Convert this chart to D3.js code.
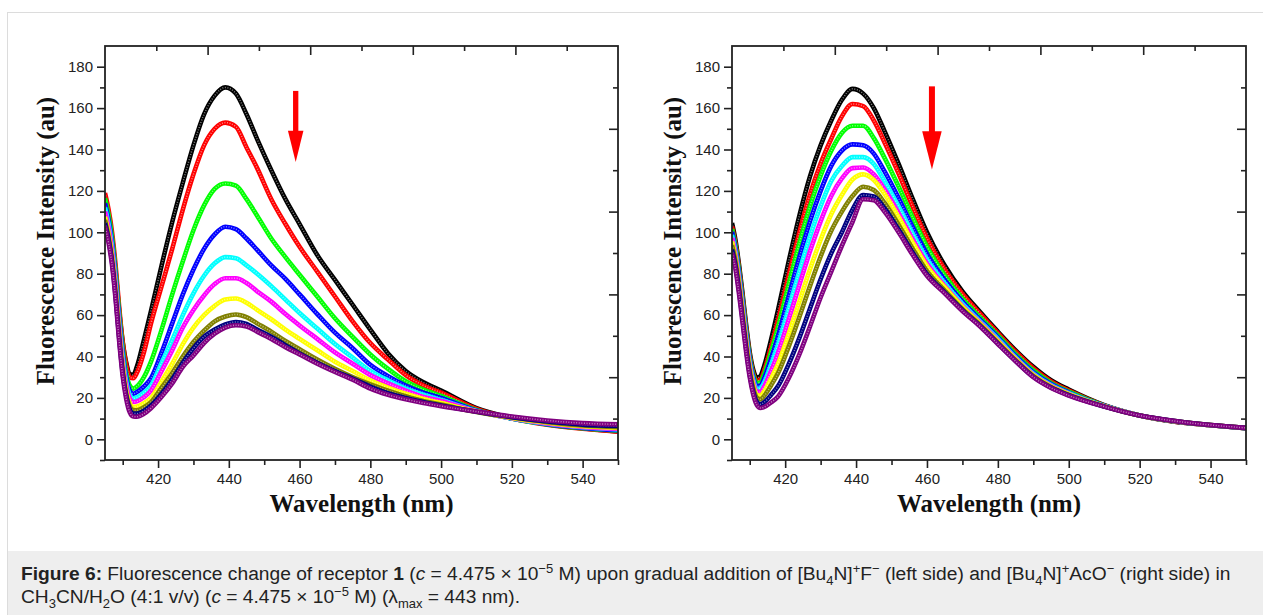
<!DOCTYPE html>
<html>
<head>
<meta charset="utf-8">
<script src="https://cdn.jsdelivr.net/npm/d3@7"></script>
<style>
  body { margin: 0; background: #fff; font-family: "Liberation Sans", Arial, sans-serif; }
  #frame { position: absolute; left: 7px; top: 12px; width: 1300px; height: 700px;
           border-left: 1px solid #dcdcdc; border-top: 1px solid #dcdcdc; }
  #chart { position: absolute; left: 0; top: 0; }
  #caption { position: absolute; left: 8px; top: 551px; width: 1300px; height: 80px;
             background: #eeeeee; color: #222; font-size: 19.2px; line-height: 23px;
             padding: 11px 0 0 13px; box-sizing: border-box; }
  #caption sup, #caption sub { font-size: 13px; line-height: 0; }
</style>
</head>
<body>
<div id="frame"></div>
<div id="chart"></div>
<script>
/* wavelengths (nm) shared by every spectrum */
const wavelengths = [405, 406, 407, 408, 409, 410, 411, 412, 413, 414, 416, 418, 421, 424, 427, 430, 433, 436, 439, 442,
    445, 448, 452, 456, 460, 465, 470, 475, 480, 485, 490, 495, 500, 510, 520, 530, 540, 550]

const seriesColors = ['#000000', '#ff0000', '#00ff00', '#0000ff', '#00ffff', '#ff00ff', '#ffff00', '#808000', '#000080', '#800080']

/* left: titration with [Bu4N]+F- */
const fBlack   = [116, 108, 97, 81, 62, 47, 37, 31.5, 31, 35, 48, 62, 84, 105, 124, 142, 157, 166, 170, 167, 157, 145, 130, 116, 104, 89, 77, 65, 53, 41.5, 33, 27.5, 23.5, 15, 10.3, 7.3, 5.3, 3.8]
const fRed     = [119, 111, 100, 84, 64, 47, 36, 30, 29.5, 32, 42, 56, 74, 92, 111, 128, 142, 150, 153, 151, 141, 131, 116, 104, 93, 81, 69, 57, 46.5, 38.5, 31, 26, 22.5, 14.7, 10.1, 7.1, 5.1, 3.7]
const fGreen   = [116.5, 108.5, 97.5, 81, 61, 44, 32, 26, 24.5, 25.5, 30, 37.5, 53, 70, 86, 101, 113, 121, 123.6, 122.5, 116, 108, 97, 88, 79.5, 69, 58.5, 49.5, 41, 34, 28, 24, 21, 14.2, 10, 7.2, 5.3, 4.1]
const fBlue    = [114, 106, 95, 78.5, 58.5, 41.5, 30, 23.5, 22, 22.8, 25.5, 29.5, 42, 56, 70, 82, 92, 99, 102.7, 101.5, 97, 91.5, 84, 77.5, 70, 60.5, 51.5, 44, 36, 30.5, 26, 22.5, 20, 13.9, 10, 7.3, 5.5, 4.4]
const fCyan    = [112, 104, 93, 76.5, 56.5, 39.5, 28, 21.5, 19.8, 20.2, 22.5, 26, 37, 48, 60, 70.5, 79, 85, 88, 87.5, 84, 80, 74, 67.5, 61, 53.5, 46, 39.5, 33, 28.5, 24.5, 21.5, 19, 13.7, 10.1, 7.5, 5.8, 4.8]
const fMagenta = [110, 102, 91, 74.5, 54.5, 37.5, 26, 19.8, 18, 18.3, 20.3, 23.5, 33, 43, 54, 62.5, 69.5, 75, 77.8, 77.8, 75.5, 71.5, 66.5, 60.5, 55, 48.5, 42, 36.5, 31, 27, 23.5, 20.5, 18.5, 13.6, 10.2, 7.7, 6, 5.1]
const fYellow  = [107.5, 99.5, 88.5, 72, 52, 35, 23.5, 17.5, 15.6, 15.8, 17.5, 20, 28, 36.5, 46, 54, 60, 64.5, 67.5, 68, 66, 62.5, 58, 53, 48.5, 43, 37.5, 33, 28.5, 25, 22, 19.5, 17.5, 13.4, 10.3, 8, 6.3, 5.5]
const fOlive   = [106, 98, 87, 70.5, 50.5, 33.5, 22, 16, 14.1, 14, 15.5, 18, 25, 32, 40, 47, 52.5, 57, 59.3, 60.3, 59, 56, 52, 47.5, 43.5, 38.5, 34, 30, 26.5, 23.5, 20.8, 18.5, 16.8, 13.2, 10.5, 8.3, 6.7, 5.9]
const fNavy    = [104.5, 96.5, 85.5, 69, 49, 32, 21, 14.5, 12.5, 12.4, 13.8, 16.3, 22, 29, 37, 44, 49.5, 53, 55.5, 56.7, 55.7, 53, 49.5, 45.5, 41.5, 37, 33, 29.3, 25.5, 22.3, 20, 18, 16.3, 13.3, 10.7, 8.6, 7.1, 6.4]
const fPurple  = [103, 95, 84, 67.5, 47.5, 30.5, 19.5, 13, 11, 10.9, 12.3, 15, 20.5, 27, 35, 40.5, 46.5, 51, 54, 55.1, 54.5, 52, 48.5, 44.5, 41, 36.5, 32.5, 28.8, 24.5, 21.5, 19.3, 17.5, 16, 13.4, 11, 9.1, 7.8, 7.2]

/* right: titration with [Bu4N]+AcO- */
const aBlack   = [104.5, 96, 84, 70, 55, 42, 33.5, 29.7, 30.5, 35, 48, 62.6, 86, 108, 127, 142, 154, 164, 169.3, 167, 160, 149, 133, 116, 100, 84, 71.5, 61.5, 52, 43, 35, 28.5, 24, 16.5, 11.5, 8.5, 6.8, 5.4]
const aRed     = [102.8, 94.3, 82.3, 68.3, 53.4, 40.6, 32.1, 28.1, 28.7, 32.7, 44.4, 57.6, 79.2, 100, 118.3, 133.2, 145.2, 156, 162, 161, 154, 143.5, 128.4, 112.2, 97.1, 82, 70.2, 60.6, 51.3, 42.3, 34.3, 28, 23.6, 16.4, 11.5, 8.5, 6.8, 5.4]
const aGreen   = [101.6, 93.2, 81.2, 67.2, 52.4, 39.6, 31.1, 27.1, 27.4, 31.1, 42, 54.2, 74.7, 94.6, 112.5, 127.3, 139.4, 148, 151.5, 151.5, 145.5, 136.1, 122.1, 107.1, 93.1, 79.2, 68, 58.9, 50.2, 41.2, 33.3, 27.2, 23, 16.3, 11.5, 8.6, 6.8, 5.4]
const aBlue    = [100.2, 91.8, 79.8, 65.8, 51.1, 38.4, 29.9, 25.7, 25.9, 29.2, 38.9, 50, 69.1, 87.9, 105.3, 120, 132.1, 139.5, 142.5, 142, 138, 129.5, 116.5, 102.5, 89.5, 77, 66.5, 57.8, 49.3, 40.3, 32.4, 26.7, 22.6, 16.2, 11.5, 8.6, 6.8, 5.4]
const aCyan    = [98.7, 90.4, 78.4, 64.4, 49.8, 37.2, 28.7, 24.4, 24.6, 27.2, 35.9, 45.8, 63.4, 81.2, 98, 112.6, 124.8, 132, 136.3, 136.3, 133, 124.8, 112.5, 99.3, 87, 75.4, 65.4, 57, 48.5, 39.6, 31.8, 26.2, 22.3, 16.1, 11.5, 8.7, 6.9, 5.5]
const aMagenta = [97.3, 89, 77, 63, 48.5, 36, 27.5, 23.1, 22.8, 25.3, 32.9, 41.7, 57.8, 74.5, 90.8, 105.3, 117.5, 126, 131, 131.3, 128, 120.9, 109.2, 96.6, 84.9, 74.1, 64.5, 56.3, 47.8, 39.1, 31.3, 25.8, 22, 16, 11.5, 8.7, 6.9, 5.5]
const aYellow  = [95.5, 87.3, 75.3, 61.3, 46.9, 34.6, 26.1, 21.5, 21, 22.9, 29.3, 36.6, 51, 66.5, 82.1, 96.4, 108.7, 118, 125.5, 128, 125.3, 118.6, 107.3, 94.9, 83.6, 73.4, 64, 55.9, 47.4, 38.8, 31, 25.6, 21.8, 16, 11.5, 8.7, 6.9, 5.5]
const aOlive   = [93.9, 85.8, 73.8, 59.8, 45.5, 33.2, 24.7, 20.1, 19.3, 20.8, 26, 32, 44.8, 59.1, 74.1, 88.3, 100.7, 110, 117.5, 122, 120.4, 114.3, 103.6, 92, 81.3, 71.9, 63, 55.2, 46.7, 38.2, 30.5, 25.2, 21.5, 15.9, 11.5, 8.8, 6.9, 5.5]
const aNavy    = [91.7, 83.7, 71.7, 57.7, 43.6, 31.4, 22.9, 18.1, 16.9, 17.8, 21.4, 25.7, 36.3, 49, 63.2, 77.3, 89.8, 100, 111, 118, 117.3, 111.6, 101.3, 90.1, 79.8, 71, 62.4, 54.8, 46.3, 37.9, 30.2, 25, 21.3, 15.8, 11.5, 8.8, 6.9, 5.5]
const aPurple  = [90, 82, 70, 56, 42, 30, 21.5, 16.5, 15.1, 15.5, 17.8, 20.7, 29.5, 41, 54.5, 68.5, 81, 93.5, 105, 116, 115.5, 110, 100, 89, 79, 70.5, 62, 54.5, 46, 37.7, 30, 24.8, 21.1, 15.8, 11.5, 8.8, 6.9, 5.5]

const xTicks = [420, 440, 460, 480, 500, 520, 540]
const xMinor = [410, 430, 450, 470, 490, 510, 530, 550]
const yTicks = [0, 20, 40, 60, 80, 100, 120, 140, 160, 180]
const yMinor = [-10, 10, 30, 50, 70, 90, 110, 130, 150, 170]

/* red "decrease" arrow, in data units: x, shaft top, head top, tip */
const fArrow = [458.9, 168.3, 149, 134]
const aArrow = [461.4, 170.5, 148.8, 130.3]

const panels = [
    { left: 105, right: 618, series: [fBlack, fRed, fGreen, fBlue, fCyan, fMagenta, fYellow, fOlive, fNavy, fPurple], arrow: fArrow, headW: 15.5, shaftW: 5.3 },
    { left: 732, right: 1246, series: [aBlack, aRed, aGreen, aBlue, aCyan, aMagenta, aYellow, aOlive, aNavy, aPurple], arrow: aArrow, headW: 19.5, shaftW: 6 }
]

const width = 1263
const height = 615
const plotTop = 46
const plotBottom = 460

const svg = d3.select('#chart').append('svg')
    .attr('width', width)
    .attr('height', height)
    .attr('viewBox', [0, 0, width, height])

const drawPanel = (p, idx) => {
    const x = d3.scaleLinear().domain([405, 550]).range([p.left, p.right])
    const y = d3.scaleLinear().domain([-10, 190]).range([plotBottom, plotTop])
    const g = svg.append('g')

    /* spectra */
    const clipId = `clip${idx}`
    g.append('clipPath').attr('id', clipId)
        .append('rect')
        .attr('x', p.left).attr('y', plotTop)
        .attr('width', p.right - p.left).attr('height', plotBottom - plotTop)

    const line = d3.line()
        .x((d, i) => x(wavelengths[i]))
        .y(d => y(d))
        .curve(d3.curveMonotoneX)

    const curves = g.append('g').attr('clip-path', `url(#${clipId})`)
    p.series.forEach((values, i) => {
        curves.append('path')
            .datum(values)
            .attr('fill', 'none')
            .attr('stroke', seriesColors[i])
            .attr('stroke-width', 4.6)
            .attr('stroke-linejoin', 'round')
            .attr('d', line)
        // hollow-marker look
        curves.append('path')
            .datum(values)
            .attr('fill', 'none')
            .attr('stroke', '#fff')
            .attr('stroke-opacity', 0.5)
            .attr('stroke-width', 1.5)
            .attr('stroke-dasharray', '1 1.6')
            .attr('d', line)
    })

    /* axes */
    const axisStyle = sel => {
        sel.select('.domain').remove()
        sel.selectAll('line').attr('stroke', '#222').attr('stroke-width', 1.6)
        sel.selectAll('text').attr('fill', '#222')
            .style('font-family', '"Liberation Sans", Arial, sans-serif')
            .style('font-size', '15px')
    }

    g.append('g').attr('transform', `translate(0,${plotBottom})`)
        .call(d3.axisBottom(x).tickValues(xTicks).tickSize(8).tickPadding(5).tickFormat(d3.format('d')))
        .call(axisStyle)
    g.append('g').attr('transform', `translate(0,${plotBottom})`)
        .call(d3.axisBottom(x).tickValues(xMinor).tickSize(5).tickFormat(''))
        .call(axisStyle)
    g.append('g').attr('transform', `translate(${p.left},0)`)
        .call(d3.axisLeft(y).tickValues(yTicks).tickSize(8).tickPadding(4).tickFormat(d3.format('d')))
        .call(axisStyle)
    g.append('g').attr('transform', `translate(${p.left},0)`)
        .call(d3.axisLeft(y).tickValues(yMinor).tickSize(5).tickFormat(''))
        .call(axisStyle)

    /* mirror axes: ten equal divisions, inward ticks */
    const xDiv = d3.scaleLinear().domain([0, 10]).range([p.left, p.right])
    const yDiv = d3.scaleLinear().domain([0, 10]).range([plotBottom, plotTop])
    const divs = d3.range(1, 10)
    g.append('g').attr('transform', `translate(0,${plotTop})`)
        .call(d3.axisBottom(xDiv).tickValues(divs).tickFormat(''))
        .call(axisStyle)
        .selectAll('.tick line').attr('y2', d => d % 2 ? 5 : 9)
    g.append('g').attr('transform', `translate(${p.right},0)`)
        .call(d3.axisLeft(yDiv).tickValues(divs).tickFormat(''))
        .call(axisStyle)
        .selectAll('.tick line').attr('x2', d => d % 2 ? -5 : -9)

    /* frame */
    g.append('rect')
        .attr('x', p.left).attr('y', plotTop)
        .attr('width', p.right - p.left).attr('height', plotBottom - plotTop)
        .attr('fill', 'none').attr('stroke', '#222').attr('stroke-width', 1.8)

    /* titles */
    g.append('text')
        .attr('transform', `translate(${p.left - 60},241) rotate(-90)`)
        .attr('text-anchor', 'middle')
        .attr('dominant-baseline', 'central')
        .style('font-family', '"Liberation Serif", "Times New Roman", serif')
        .style('font-weight', 'bold')
        .style('font-size', '25px')
        .attr('fill', '#111')
        .text('Fluorescence Intensity (au)')
    g.append('text')
        .attr('x', (p.left + p.right) / 2)
        .attr('y', 512)
        .attr('text-anchor', 'middle')
        .style('font-family', '"Liberation Serif", "Times New Roman", serif')
        .style('font-weight', 'bold')
        .style('font-size', '25px')
        .attr('fill', '#111')
        .text('Wavelength (nm)')

    /* arrow */
    const [ax, aTop, aHead, aTip] = p.arrow
    const cx = x(ax)
    g.append('rect')
        .attr('x', cx - p.shaftW / 2).attr('y', y(aTop))
        .attr('width', p.shaftW).attr('height', y(aHead) - y(aTop) + 1)
        .attr('fill', '#ff0000')
    g.append('path')
        .attr('d', `M${cx - p.headW / 2},${y(aHead)}L${cx + p.headW / 2},${y(aHead)}L${cx},${y(aTip)}Z`)
        .attr('fill', '#ff0000')
}

panels.forEach(drawPanel)

/* caption */
d3.select('body').append('div')
    .attr('id', 'caption')
    .html('<b>Figure 6:</b> Fluorescence change of receptor <b>1</b> (<i>c</i> = 4.475 × 10<sup>−5</sup> M) upon gradual addition of ' +
        '[Bu<sub>4</sub>N]<sup>+</sup>F<sup>−</sup> (left side) and [Bu<sub>4</sub>N]<sup>+</sup>AcO<sup>−</sup> (right side) in<br>' +
        'CH<sub>3</sub>CN/H<sub>2</sub>O (4:1 v/v) (<i>c</i> = 4.475 × 10<sup>−5</sup> M) (λ<sub>max</sub> = 443 nm).')
</script>
</body>
</html>
